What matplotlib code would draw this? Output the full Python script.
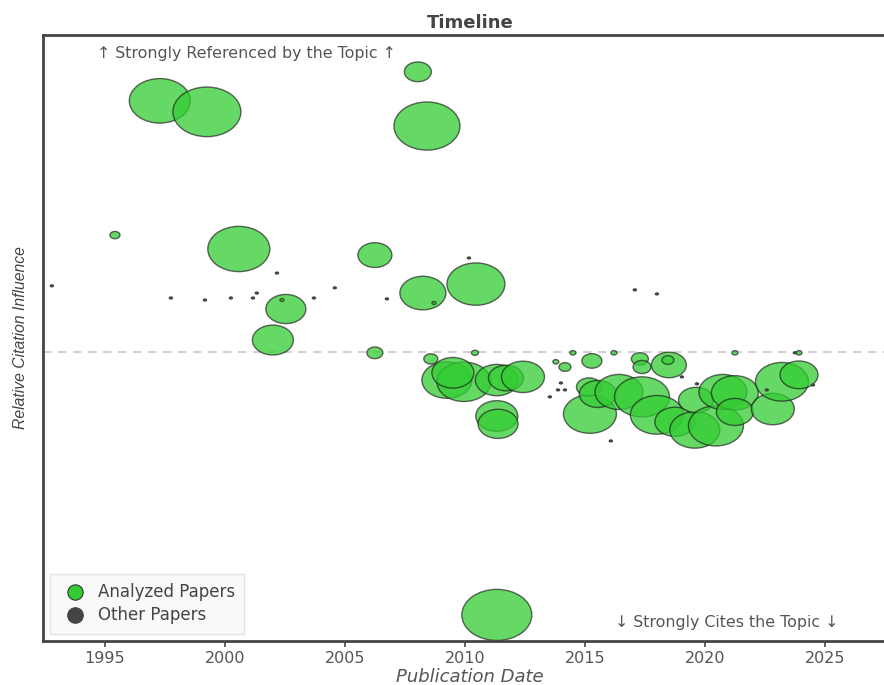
import numpy as np
import matplotlib
matplotlib.use("Agg")
import matplotlib.pyplot as plt
from matplotlib.path import Path
from matplotlib.lines import Line2D

# analyzed papers: publication year, relative influence, bubble weight
analyzed_year = [1997.29, 1999.25, 2008.04, 2008.42, 1995.42, 2000.58, 2006.25, 2008.25,
                 2010.46, 2002.54, 2002.00, 2006.25, 2002.38, 2008.71, 2010.42, 2008.58,
                 2009.25, 2009.96, 2009.50, 2011.33, 2011.71, 2012.42, 2011.33, 2011.38,
                 2011.33, 2013.79, 2014.17, 2014.50, 2015.29, 2016.21, 2017.29, 2017.38,
                 2018.50, 2018.46, 2015.21, 2015.17, 2015.54, 2016.42, 2017.38, 2018.00,
                 2018.75, 2019.58, 2019.63, 2020.46, 2020.75, 2021.25, 2021.25, 2022.83,
                 2023.21, 2023.92, 2021.25, 2023.92]
analyzed_infl = [0.866, 0.828, 0.966, 0.779, 0.403, 0.355, 0.334, 0.203,
                 0.234, 0.148, 0.041, -0.003, 0.179, 0.169, -0.003, -0.024,
                 -0.097, -0.103, -0.072, -0.097, -0.090, -0.086, -0.221, -0.248,
                 -0.907, -0.034, -0.052, -0.003, -0.031, -0.003, -0.024, -0.052,
                 -0.045, -0.028, -0.214, -0.121, -0.145, -0.138, -0.155, -0.217,
                 -0.241, -0.269, -0.166, -0.255, -0.138, -0.141, -0.207, -0.197,
                 -0.103, -0.079, -0.003, -0.003]
analyzed_weight = [61, 68, 27, 66, 10, 62, 34, 46,
                   58, 40, 41, 16, 4, 4, 7, 14,
                   50, 54, 42, 43, 35, 43, 42, 40,
                   70, 6, 12, 6, 20, 6, 17, 18,
                   35, 12, 53, 25, 37, 48, 55, 53,
                   40, 50, 35, 55, 48, 47, 37, 43,
                   53, 38, 6, 6]

# other papers
other_year = [1992.79, 1997.75, 1999.17, 2000.25, 2001.17, 2001.33, 2002.17, 2003.71,
              2004.58, 2006.75, 2010.17, 2017.08, 2018.00, 2014.00, 2013.88, 2014.17,
              2013.54, 2016.08, 2019.04, 2019.67, 2022.58, 2024.50, 2023.75]
other_infl = [0.228, 0.186, 0.179, 0.186, 0.186, 0.203, 0.272, 0.186,
              0.221, 0.183, 0.324, 0.214, 0.200, -0.107, -0.131, -0.131,
              -0.155, -0.307, -0.086, -0.110, -0.131, -0.114, -0.003]

year_ticks = [1995, 2000, 2005, 2010, 2015, 2020, 2025]

# bubbles in the reference are stretched sideways
circ = Path.unit_circle()
ellipse = Path(circ.vertices * [1.37, 1.0], circ.codes)

fig = plt.figure(figsize=(8.84, 6.85), dpi=100)
ax = fig.add_axes([0.0486, 0.0642, 0.966, 0.8847])

ax.axhline(0, color="#c8c8c8", lw=1.2, ls=(0, (5, 4)), zorder=1)

sizes = (np.array(analyzed_weight) * 0.72) ** 2
ax.scatter(analyzed_year, analyzed_infl, s=sizes, marker=ellipse,
           facecolors=(0.2, 0.8, 0.2, 0.75), edgecolors=(0.1, 0.1, 0.1, 0.65),
           linewidths=1.0, zorder=2)
ax.scatter(other_year, other_infl, s=(4.5 * 0.72) ** 2, marker=ellipse,
           facecolors="#444444", edgecolors="none", zorder=3)

ax.set_xlim(1992.42, 2028.0)
ax.set_ylim(-0.997, 1.093)
ax.set_xticks(year_ticks)
ax.set_yticks([])
ax.tick_params(axis="x", length=4, width=1.2, color="#444444",
               labelcolor="#555555", labelsize=11.5)

for side in ["left", "bottom", "top"]:
    ax.spines[side].set_color("#444444")
    ax.spines[side].set_linewidth(2)
ax.spines["right"].set_visible(False)

ax.set_title("Timeline", fontsize=13, fontweight="bold", color="#444444", pad=5)
ax.set_xlabel("Publication Date", fontsize=13, style="italic", color="#555555", labelpad=1)
ax.set_ylabel("Relative Citation Influence", fontsize=11.3, style="italic", color="#444444",
              family=["Liberation Sans", "DejaVu Sans"], labelpad=11)

ax.text(0.063, 0.969, "↑ Strongly Referenced by the Topic ↑", transform=ax.transAxes,
        ha="left", va="center", fontsize=11.4, color="#555555")
ax.text(0.931, 0.031, "↓ Strongly Cites the Topic ↓", transform=ax.transAxes,
        ha="right", va="center", fontsize=11.4, color="#555555")

handles = [
    Line2D([], [], ls="", marker="o", markersize=11, markerfacecolor="#33cc33",
           markeredgecolor="#333333", markeredgewidth=0.8, label="Analyzed Papers"),
    Line2D([], [], ls="", marker="o", markersize=11, markerfacecolor="#444444",
           markeredgecolor="#444444", label="Other Papers"),
]
leg = ax.legend(handles=handles, loc="lower left", fontsize=12, frameon=True,
                borderaxespad=0.45, handletextpad=0.5, handlelength=1.8,
                borderpad=0.55, labelspacing=0.3, fancybox=False)
leg.get_frame().set_facecolor("#f8f8f8")
leg.get_frame().set_edgecolor("#dddddd")
for t in leg.get_texts():
    t.set_color("#444444")

fig.savefig("out.png", dpi=100)
